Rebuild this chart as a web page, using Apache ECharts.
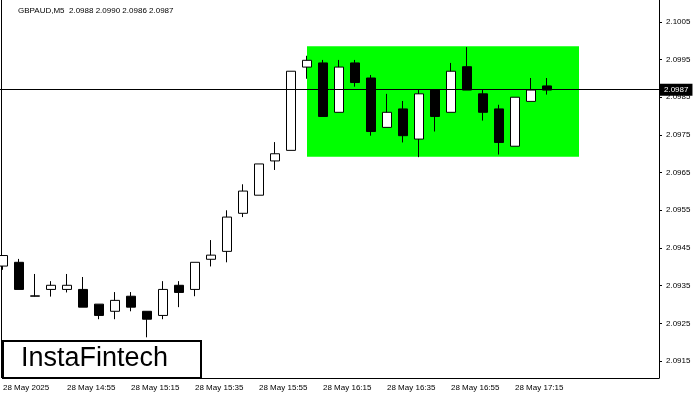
<!DOCTYPE html>
<html><head><meta charset="utf-8">
<script src="https://cdn.jsdelivr.net/npm/echarts@6/dist/echarts.min.js"></script>
<style>html,body{margin:0;padding:0;background:#fff}#c{width:700px;height:400px}</style>
</head><body><div id="c"></div>
<script>
const times = ["14:35","14:40","14:45","14:50","14:55","15:00","15:05","15:10","15:15","15:20","15:25","15:30","15:35","15:40","15:45","15:50","15:55","16:00","16:05","16:10","16:15","16:20","16:25","16:30","16:35","16:40","16:45","16:50","16:55","17:00","17:05","17:10","17:15","17:20","17:25","17:30","17:35","17:40","17:45","17:50","17:55","18:00"];
// [open, close, low, high]
const ohlc = [
[2.09402,2.09430,2.09392,2.09431],[2.09412,2.09340,2.09340,2.09421],[2.09322,2.09323,2.09321,2.09381],
[2.09340,2.09351,2.09321,2.09362],[2.09340,2.09351,2.09332,2.09381],[2.09340,2.09293,2.09293,2.09373],
[2.09301,2.09271,2.09261,2.09301],[2.09282,2.09311,2.09261,2.09333],[2.09322,2.09293,2.09282,2.09333],
[2.09282,2.09261,2.09213,2.09282],[2.09271,2.09340,2.09261,2.09362],[2.09351,2.09332,2.09293,2.09362],
[2.09340,2.09412,2.09322,2.09412],[2.09420,2.09431,2.09401,2.09471],[2.09441,2.09532,2.09412,2.09550],
[2.09542,2.09601,2.09532,2.09619],[2.09590,2.09673,2.09590,2.09673],[2.09681,2.09700,2.09657,2.09731],
[2.09709,2.09919,2.09709,2.09919],[2.09930,2.09948,2.09899,2.09960],[2.09941,2.09799,2.09799,2.09949],
[2.09810,2.09930,2.09810,2.09949],[2.09941,2.09889,2.09878,2.09949],[2.09901,2.09759,2.09748,2.09909],
[2.09770,2.09810,2.09770,2.09859],[2.09819,2.09748,2.09730,2.09840],[2.09739,2.09859,2.09691,2.09869],
[2.09869,2.09799,2.09759,2.09869],[2.09810,2.09919,2.09810,2.09941],[2.09931,2.09869,2.09869,2.09983],
[2.09859,2.09810,2.09788,2.09869],[2.09819,2.09730,2.09698,2.09830],[2.09720,2.09850,2.09720,2.09850],
[2.09839,2.09869,2.09839,2.09901],[2.09880,2.09869,2.09857,2.09901]
];
const yTicks = [2.0915,2.0925,2.0935,2.0945,2.0955,2.0965,2.0975,2.0985,2.0995,2.1005];
const lastLabelledTime = "17:15";
const currentPrice = 2.0987;
const rangeTop = 2.09985, rangeBottom = 2.09692, rangeStart = "16:10", rangeEnd = "17:35";
const title = "GBPAUD,M5  2.0988 2.0990 2.0986 2.0987";

const lastIdx = times.indexOf(lastLabelledTime);
const chart = echarts.init(document.getElementById('c'));
chart.setOption({
  animation:false,
  grid:{left:3,right:41,top:0,bottom:22},
  xAxis:{type:'category',data:times,boundaryGap:false,
    axisLine:{lineStyle:{color:'#000'}},axisTick:{show:false},
    axisLabel:{interval:3,align:'left',margin:6,fontSize:8,color:'#000',fontFamily:'Liberation Sans',
      formatter:(v,i)=> i===0 ? '28 May 2025' : (i>lastIdx ? '' : '28 May '+v)},
    splitLine:{show:false}},
  yAxis:{type:'value',position:'right',min:2.09105,max:2.10108,scale:true,
    axisLine:{show:true,lineStyle:{color:'#000'}},
    axisTick:{show:true,customValues:yTicks,length:3,lineStyle:{color:'#000'}},
    axisLabel:{customValues:yTicks,fontSize:8,color:'#000',margin:7,fontFamily:'Liberation Sans',formatter:v=>v.toFixed(4)},
    splitLine:{show:false}},
  graphic:[
    {type:'line',shape:{x1:1.5,y1:0,x2:1.5,y2:378},style:{stroke:'#000',lineWidth:1}},
    {type:'text',left:18,top:7,style:{text:title,fontSize:8,fill:'#000',fontFamily:'Liberation Sans'}},
    {type:'rect',shape:{x:3,y:341,width:198,height:37},style:{fill:'#fff',stroke:'#000',lineWidth:2},z:100},
    {type:'text',left:21,top:345,style:{text:'InstaFintech',fontSize:27,fill:'#000',fontFamily:'Liberation Sans'},z:101}
  ],
  series:[{
    type:'candlestick',data:ohlc,barWidth:10,
    itemStyle:{color:'#fff',color0:'#000',borderColor:'#000',borderColor0:'#000',borderWidth:1},
    markArea:{silent:true,itemStyle:{color:'#00ff00',opacity:1},z:-1,
      data:[[{xAxis:rangeStart,yAxis:rangeTop},{xAxis:rangeEnd,yAxis:rangeBottom}]]},
    markLine:{silent:true,symbol:'none',lineStyle:{color:'#000',type:'solid',width:1},
      label:{position:'end',distance:1,formatter:currentPrice.toFixed(4),color:'#fff',backgroundColor:'#000',
        fontSize:8,padding:[2,4],fontFamily:'Liberation Sans'},
      data:[[{x:0,yAxis:currentPrice},{x:659,yAxis:currentPrice}]]}
  }]
});
</script></body></html>
